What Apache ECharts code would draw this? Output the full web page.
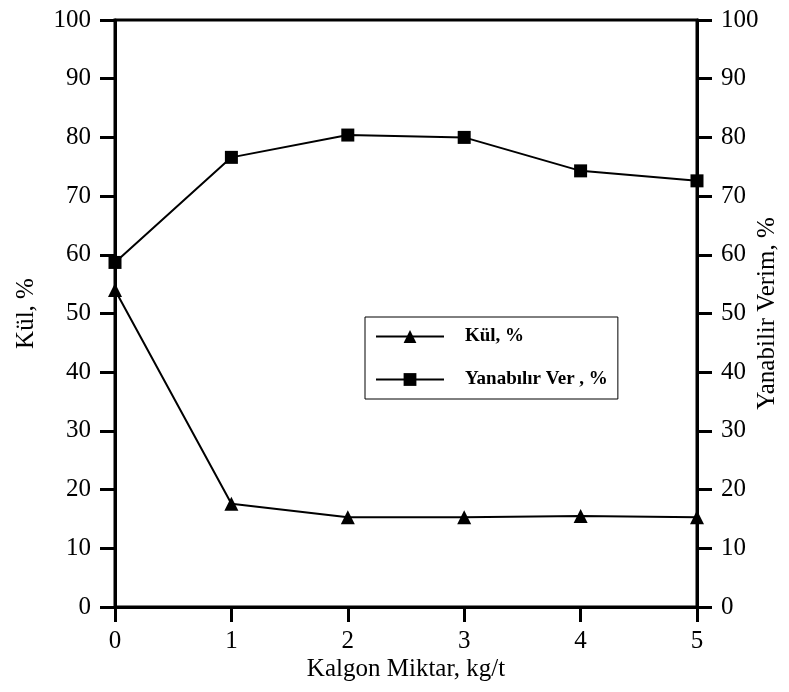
<!DOCTYPE html>
<html>
<head>
<meta charset="utf-8">
<script src="https://cdn.jsdelivr.net/npm/echarts@6/dist/echarts.min.js"></script>
<style>html,body{margin:0;padding:0;background:#fff;}#c{width:789px;height:692px;}</style>
</head>
<body>
<div id="c"></div>
<script>
const kalgon = [0, 1, 2, 3, 4, 5];
const kulValues = [54.0, 17.6, 15.3, 15.3, 15.5, 15.3];
const yanabilirValues = [58.7, 76.6, 80.4, 80.0, 74.3, 72.6];
const seriesNames = ['Kül, %', 'Yanabılır Ver , %'];
const xAxisTitle = 'Kalgon Miktar, kg/t';
const leftAxisTitle = 'Kül, %';
const rightAxisTitle = 'Yanabilir Verim, %';

const font = 'Liberation Serif';
const chart = echarts.init(document.getElementById('c'));
const yAxisBase = {
  type: 'value', min: 0, max: 100, interval: 10,
  nameLocation: 'middle',
  nameMoveOverlap: false,
  nameTextStyle: { fontFamily: font, fontSize: 25, color: '#000' },
  axisLine: { show: true, lineStyle: { color: '#000', width: 3 } },
  axisTick: { show: true, length: 15, lineStyle: { color: '#000', width: 3 } },
  axisLabel: { fontFamily: font, fontSize: 25, color: '#000', margin: 24 },
  splitLine: { show: false }
};
chart.setOption({
  animation: false,
  backgroundColor: '#fff',
  grid: { left: 115, right: 92, top: 20, bottom: 85, show: true, borderColor: '#000', borderWidth: 3,
          containLabel: false, outerBoundsMode: 'none' },
  legend: {
    orient: 'vertical', left: 365, top: 317,
    padding: [10, 10, 10, 10],
    itemWidth: 68, itemHeight: 16, itemGap: 24,
    borderColor: '#000', borderWidth: 1,
    textStyle: { fontFamily: font, fontSize: 19, fontWeight: 'bold', color: '#000', padding: [0, 0, 0, 16] },
    data: seriesNames
  },
  xAxis: {
    type: 'value', min: 0, max: 5, interval: 1,
    name: xAxisTitle, nameLocation: 'middle', nameGap: 50,
    nameMoveOverlap: false,
    nameTextStyle: { fontFamily: font, fontSize: 25, color: '#000' },
    axisLine: { show: true, lineStyle: { color: '#000', width: 3 } },
    axisTick: { show: true, length: 15, lineStyle: { color: '#000', width: 3 } },
    axisLabel: { fontFamily: font, fontSize: 25, color: '#000', margin: 22 },
    splitLine: { show: false }
  },
  yAxis: [
    Object.assign({}, yAxisBase, { position: 'left', name: leftAxisTitle, nameGap: 76, nameRotate: 90 }),
    Object.assign({}, yAxisBase, { position: 'right', name: rightAxisTitle, nameGap: 58, nameRotate: 90 })
  ],
  series: [
    {
      name: seriesNames[0], type: 'line', yAxisIndex: 0,
      data: kalgon.map((x, i) => [x, kulValues[i]]),
      symbol: 'triangle', symbolSize: 14,
      lineStyle: { color: '#000', width: 2 },
      itemStyle: { color: '#000' }
    },
    {
      name: seriesNames[1], type: 'line', yAxisIndex: 1,
      data: kalgon.map((x, i) => [x, yanabilirValues[i]]),
      symbol: 'rect', symbolSize: 13,
      lineStyle: { color: '#000', width: 2 },
      itemStyle: { color: '#000' }
    }
  ]
});
</script>
</body>
</html>
